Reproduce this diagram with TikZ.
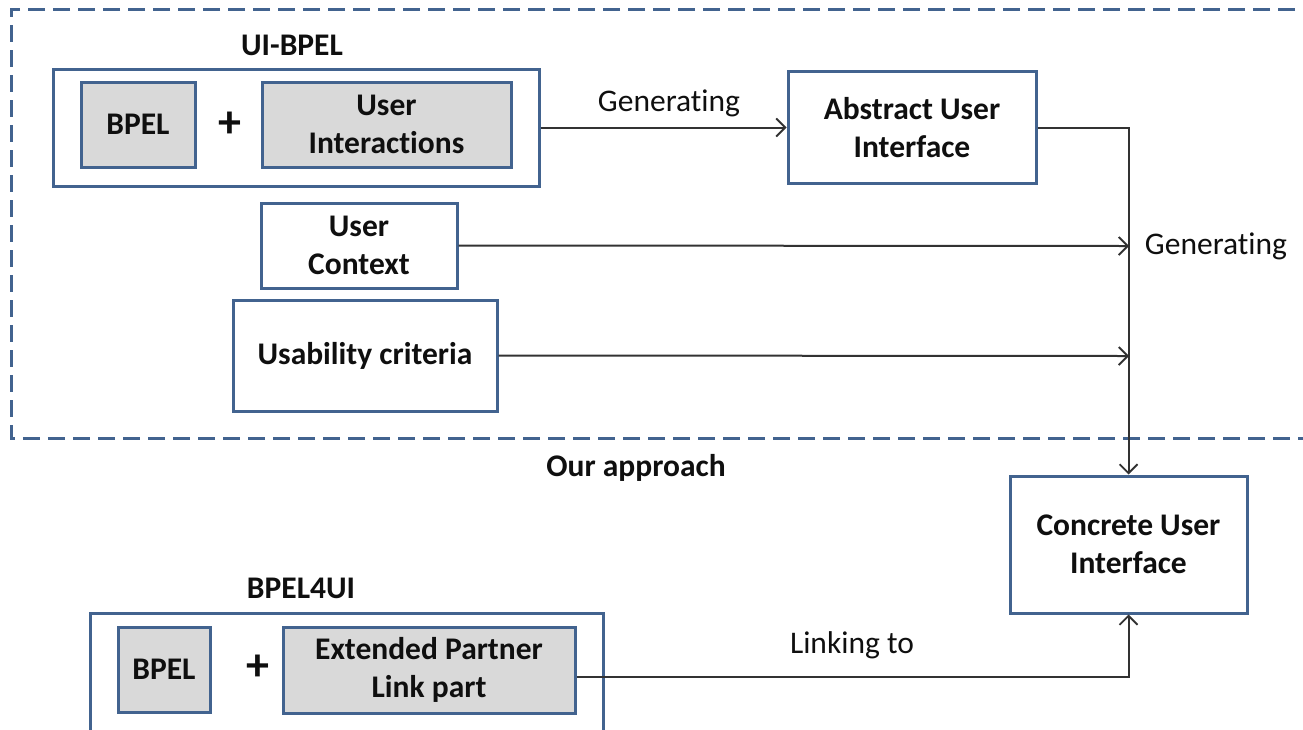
\documentclass[tikz,border=0pt]{standalone}
\usepackage{fontspec}
\setmainfont[Ligatures=NoCommon]{Carlito}
\usetikzlibrary{arrows.meta}
\definecolor{frameblue}{RGB}{66,99,143}
\definecolor{boxgray}{RGB}{217,217,217}
\definecolor{linkgray}{RGB}{50,50,50}
\definecolor{inkdark}{RGB}{15,15,15}
\tikzset{
  box/.style={draw=frameblue, line width=3pt, fill=white, align=center,
    font=\fontsize{31.5}{38}\selectfont\bfseries, text=inkdark, inner sep=0pt},
  partbox/.style={box, fill=boxgray},
  caption/.style={font=\fontsize{31.5}{38}\selectfont\bfseries, text=inkdark, inner sep=0pt},
  plussign/.style={font=\fontsize{46}{46}\selectfont\bfseries, text=inkdark, inner sep=0pt},
  verb/.style={font=\fontsize{31.5}{38}\selectfont, text=inkdark, inner sep=0pt},
  link/.style={draw=linkgray, line width=2pt, -{Straight Barb[length=9pt,width=18pt,line width=1.8pt]}}
}
\begin{document}
\begin{tikzpicture}[x=1pt,y=-1pt]
\useasboundingbox (0,0) rectangle (1303,729);
\clip (0,0) rectangle (1303,729);

% dashed frame around the proposed approach (open to the right)
\draw[frameblue, line width=3pt, dash pattern=on 17pt off 8pt]
  (1320,9) -- (11,9) -- (11,438) -- (1320,438);

% UI-BPEL group
\node[caption] (uibpeltitle) at (292,45) {UI-BPEL};
\node[box, minimum width=486pt, minimum height=117pt] (uibpel) at (296,127.5) {};
\node[partbox, minimum width=114pt, minimum height=85pt] (bpelA) at (138,124.5) {BPEL};
\node[plussign] (plusA) at (230,125) {+};
\node[partbox, minimum width=249pt, minimum height=85pt] (uinter) at (386.5,124.5) {User\\Interactions};

% abstract user interface
\node[box, minimum width=248pt, minimum height=112pt] (aui) at (912,127.5) {Abstract User\\Interface};

% further inputs
\node[box, minimum width=196pt, minimum height=85pt] (uctx) at (359,245.5) {User\\Context};
\node[box, minimum width=264pt, minimum height=111pt] (usab) at (365,355.5) {Usability criteria};

\node[caption] (approach) at (636,468) {Our approach};

% concrete user interface
\node[box, minimum width=237pt, minimum height=137pt] (cui) at (1128.5,544.5) {Concrete User\\Interface};

% BPEL4UI group
\node[caption] (bpel4uititle) at (301,588) {BPEL4UI};
\node[box, minimum width=513pt, minimum height=150pt] (bpel4ui) at (346.5,688) {};
\node[partbox, minimum width=92pt, minimum height=85pt] (bpelB) at (164,669.5) {BPEL};
\node[plussign] (plusB) at (258,668) {+};
\node[partbox, minimum width=292pt, minimum height=86pt] (epl) at (429,670) {Extended Partner\\Link part};

% junction points on the vertical collector
\coordinate (jctx) at (1129,246);
\coordinate (jusab) at (1129,356);

% connectors
\draw[link] (uibpel.east) -- (aui.west);
\node[verb] (gen1) at (669,103) {Generating};

\draw[link] (aui.east) -| (cui.north);
\draw[link] (uctx.east) -- (jctx);
\draw[link] (usab.east) -- (jusab);
\node[verb] (gen2) at (1216,246) {Generating};

\draw[link] ([yshift=-7pt]epl.east) -| (cui.south);
\node[verb] (linking) at (852,645) {Linking to};
\end{tikzpicture}
\end{document}
